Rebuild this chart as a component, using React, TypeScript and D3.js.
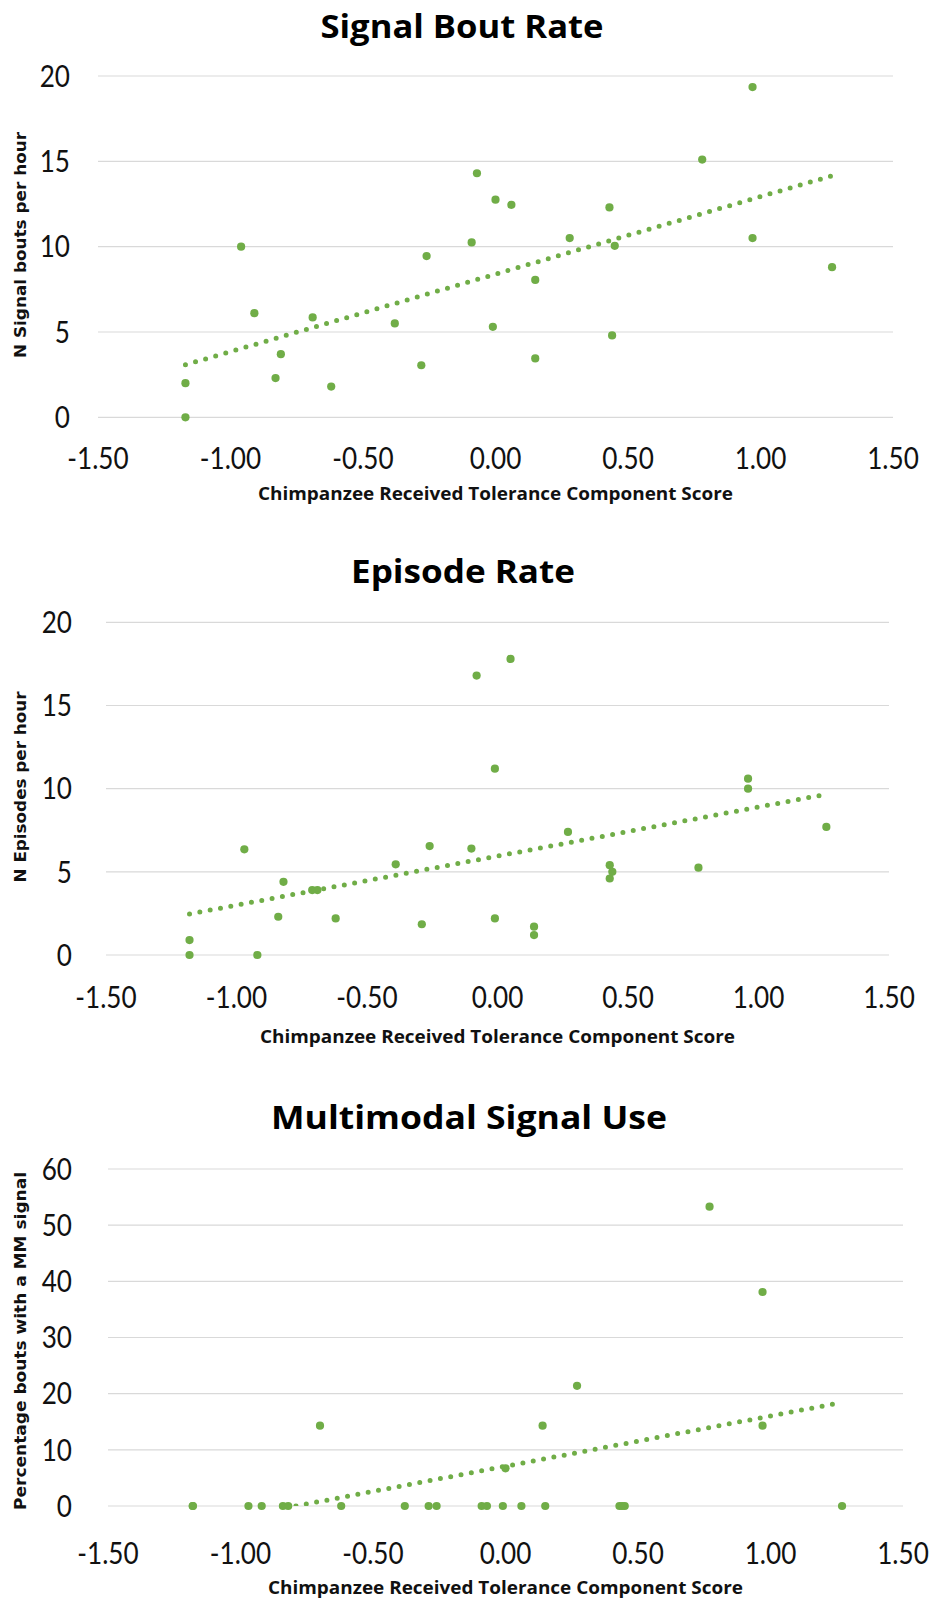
import React from 'react';
import * as d3 from 'd3';

// Shared x-axis ticks (component score)
const scoreTicks = [-1.5, -1.0, -0.5, 0, 0.5, 1.0, 1.5];
const scoreTitle = 'Chimpanzee Received Tolerance Component Score';

// Signal bout rate
const boutScore = [-1.17, -1.17, -0.96, -0.91, -0.83, -0.81, -0.69, -0.62, -0.38, -0.28, -0.26, -0.09, -0.07, -0.01, 0.0, 0.06, 0.15, 0.15, 0.28, 0.43, 0.45, 0.44, 0.78, 0.97, 0.97, 1.27];
const boutRate = [0.0, 2.0, 10.0, 6.1, 2.3, 3.7, 5.85, 1.8, 5.5, 3.05, 9.45, 10.25, 14.3, 5.3, 12.75, 12.45, 8.05, 3.45, 10.5, 12.3, 10.05, 4.8, 15.1, 19.35, 10.5, 8.8];
const boutTicks = [0, 5, 10, 15, 20];

// Episode rate
const episodeScore = [-1.18, -1.18, -0.97, -0.92, -0.84, -0.82, -0.71, -0.69, -0.62, -0.39, -0.29, -0.26, -0.1, -0.08, 0.05, -0.01, -0.01, 0.14, 0.14, 0.27, 0.43, 0.44, 0.43, 0.77, 0.96, 0.96, 1.26];
const episodeRate = [0.0, 0.9, 6.35, 0.0, 2.3, 4.4, 3.9, 3.9, 2.2, 5.45, 1.85, 6.55, 6.4, 16.8, 17.8, 11.2, 2.2, 1.7, 1.2, 7.4, 5.4, 5.0, 4.6, 5.25, 10.6, 10.0, 7.7];
const episodeTicks = [0, 5, 10, 15, 20];

// Multimodal signal use (% of bouts)
const mmScore = [-1.18, -1.18, -0.97, -0.92, -0.84, -0.82, -0.62, -0.38, -0.29, -0.26, -0.09, -0.07, -0.01, 0.06, 0.15, 0.43, 0.44, 0.45, 1.27, -0.7, 0.0, 0.14, 0.27, 0.77, 0.97, 0.97];
const mmPct = [0, 0, 0, 0, 0, 0, 0, 0, 0, 0, 0, 0, 0, 0, 0, 0, 0, 0, 0, 14.3, 6.7, 14.3, 21.4, 53.3, 38.1, 14.3];
const mmTicks = [0, 10, 20, 30, 40, 50, 60];

const GREEN = '#70AD47';
const GRID = '#D9D9D9';
const TICK_FONT = 30;
const TICK_SQUEEZE = 0.87;

type Panel = {
  id: string;
  title: string;
  yTitle: string;
  xs: number[];
  ys: number[];
  yTicks: number[];
  // layout
  titleY: number;
  titleX: number;
  titleLen: number;
  left: number;
  right: number;
  top: number;
  bottom: number;
  yTickRight: number;
  xTickY: number;
  xTitleY: number;
  yTitleCy: number;
  yTitleLen: number;
};

const panels: Panel[] = [
  {
    id: 'bout', title: 'Signal Bout Rate', yTitle: 'N Signal bouts per hour',
    xs: boutScore, ys: boutRate, yTicks: boutTicks,
    titleY: 38, titleX: 462, titleLen: 283,
    left: 98, right: 893, top: 76, bottom: 417.3,
    yTickRight: 70, xTickY: 469, xTitleY: 500, yTitleCy: 245, yTitleLen: 226,
  },
  {
    id: 'episode', title: 'Episode Rate', yTitle: 'N Episodes per hour',
    xs: episodeScore, ys: episodeRate, yTicks: episodeTicks,
    titleY: 583, titleX: 463, titleLen: 224,
    left: 106, right: 889, top: 622.3, bottom: 955,
    yTickRight: 72, xTickY: 1008, xTitleY: 1043, yTitleCy: 787, yTitleLen: 191,
  },
  {
    id: 'mm', title: 'Multimodal Signal Use', yTitle: 'Percentage bouts with a MM signal',
    xs: mmScore, ys: mmPct, yTicks: mmTicks,
    titleY: 1129, titleX: 469, titleLen: 396,
    left: 108, right: 903, top: 1169, bottom: 1506,
    yTickRight: 72, xTickY: 1564, xTitleY: 1594, yTitleCy: 1341, yTitleLen: 338,
  },
];

function fitLine(xs: number[], ys: number[]) {
  const mx = d3.mean(xs) as number;
  const my = d3.mean(ys) as number;
  let sxy = 0;
  let sxx = 0;
  xs.forEach((x, i) => {
    sxy += (x - mx) * (ys[i] - my);
    sxx += (x - mx) * (x - mx);
  });
  const slope = sxy / sxx;
  const intercept = my - slope * mx;
  return (x: number) => intercept + slope * x;
}

const fmt = d3.format('.2f');

function TickText({ x, y, anchor, label, dy }: { x: number; y: number; anchor: string; label: string; dy?: string }) {
  return (
    <text
      transform={`translate(${x},${y}) scale(${TICK_SQUEEZE},1)`} dy={dy} textAnchor={anchor}
      fontFamily="Lato, sans-serif" fontSize={TICK_FONT} fill="#111"
    >
      {label}
    </text>
  );
}

function ScatterPanel({ p }: { p: Panel }) {
  const x = d3.scaleLinear().domain([-1.5, 1.5]).range([p.left, p.right]);
  const yMax = p.yTicks[p.yTicks.length - 1];
  const y = d3.scaleLinear().domain([0, yMax]).range([p.bottom, p.top]);
  const f = fitLine(p.xs, p.ys);
  const [x0, x1] = d3.extent(p.xs) as [number, number];
  const trend = d3.line<number>().x((d) => x(d)).y((d) => y(f(d)))([x0, x1]) as string;
  const clipId = `clip-${p.id}`;
  const plotCx = (p.left + p.right) / 2;

  return (
    <g>
      <defs>
        <clipPath id={clipId}>
          <rect x={p.left} y={p.top - 4} width={p.right - p.left} height={p.bottom - p.top + 4} />
        </clipPath>
      </defs>
      <text
        x={p.titleX} y={p.titleY} textAnchor="middle"
        fontFamily="'Open Sans', sans-serif" fontWeight={700} fontSize={33} fill="#000"
        textLength={p.titleLen} lengthAdjust="spacingAndGlyphs"
      >
        {p.title}
      </text>
      {p.yTicks.map((t) => (
        <line key={`g${t}`} x1={p.left} x2={p.right} y1={y(t)} y2={y(t)} stroke={GRID} strokeWidth={1.2} />
      ))}
      {p.yTicks.map((t) => (
        <TickText key={`yt${t}`} x={p.yTickRight} y={y(t)} dy="0.36em" anchor="end" label={String(t)} />
      ))}
      {scoreTicks.map((t) => (
        <TickText key={`xt${t}`} x={x(t)} y={p.xTickY} anchor="middle" label={fmt(t).replace('−', '-')} />
      ))}
      <text
        x={plotCx} y={p.xTitleY} textAnchor="middle"
        fontFamily="'Open Sans', sans-serif" fontWeight={700} fontSize={18.5} fill="#111"
        textLength={475} lengthAdjust="spacingAndGlyphs"
      >
        {scoreTitle}
      </text>
      <text
        transform={`translate(26,${p.yTitleCy}) rotate(-90)`} textAnchor="middle"
        fontFamily="'DejaVu Sans', sans-serif" fontWeight={700} fontSize={16} fill="#111"
        textLength={p.yTitleLen} lengthAdjust="spacingAndGlyphs"
      >
        {p.yTitle}
      </text>
      {p.xs.map((v, i) => (
        <circle key={`pt${i}`} cx={x(v)} cy={y(p.ys[i])} r={4.1} fill={GREEN} />
      ))}
      <path
        d={trend} clipPath={`url(#${clipId})`} fill="none" stroke={GREEN}
        strokeWidth={5} strokeLinecap="round" strokeDasharray="0 10.5"
      />
    </g>
  );
}

export default function App() {
  return (
    <div style={{ position: 'absolute', left: 0, top: 0, background: '#fff' }}>
      <svg width={940} height={1602} viewBox="0 0 940 1602" style={{ display: 'block' }}>
        <rect width={940} height={1602} fill="#fff" />
        {panels.map((p) => (
          <ScatterPanel key={p.id} p={p} />
        ))}
      </svg>
    </div>
  );
}
